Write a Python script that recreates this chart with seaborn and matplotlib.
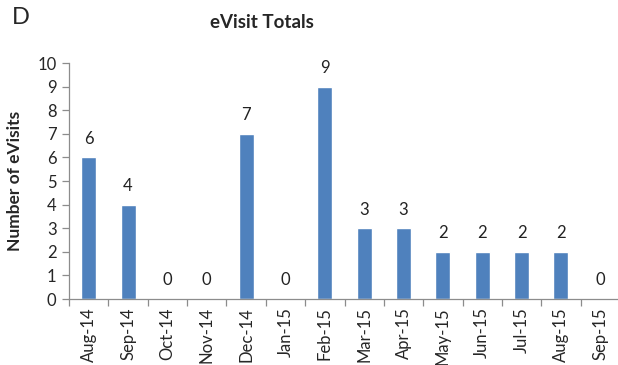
import numpy as np
import pandas as pd
import matplotlib
matplotlib.use("Agg")
import matplotlib.pyplot as plt
import seaborn as sns

months = ["Aug-14", "Sep-14", "Oct-14", "Nov-14", "Dec-14", "Jan-15", "Feb-15",
          "Mar-15", "Apr-15", "May-15", "Jun-15", "Jul-15", "Aug-15", "Sep-15"]
visits = [6, 4, 0, 0, 7, 0, 9, 3, 3, 2, 2, 2, 2, 0]

sns.set_theme(style="white")
plt.rcParams["font.family"] = ["Lato", "DejaVu Sans"]

df = pd.DataFrame({"month": months, "visits": visits})

fig = plt.figure(figsize=(6.18, 3.65), dpi=100)
# axes spans a bit past the right edge, like the original
ax = fig.add_axes([69 / 618, 66 / 365, 551 / 618, 236 / 365])

sns.barplot(data=df, x="month", y="visits", color="#4F81BD", saturation=1,
            width=0.38, ax=ax)

# value labels above bars
for i, v in enumerate(visits):
    ax.text(i, v + 0.45, str(v), ha="center", va="bottom", fontsize=12, color="#222222")

ax.set_xlim(-0.5, len(months) - 0.5)
ax.set_ylim(0, 10)
ax.set_yticks(range(0, 11))
ax.set_xlabel("")
ax.set_ylabel("Number of eVisits", fontsize=12.5, fontweight="bold", labelpad=10)

gray = "#8c8c8c"
for side in ["top", "right"]:
    ax.spines[side].set_visible(False)
for side in ["left", "bottom"]:
    ax.spines[side].set_color(gray)
    ax.spines[side].set_linewidth(0.9)

ax.tick_params(axis="y", direction="out", length=5, color=gray, width=0.9,
               labelsize=12, pad=4, left=True)
ax.tick_params(axis="x", which="major", length=0, labelsize=12, rotation=90, pad=6)
ax.set_xticks(np.arange(len(months)) - 0.5, minor=True)
ax.tick_params(axis="x", which="minor", direction="out", length=5, color=gray,
               width=0.9, bottom=True)

fig.text(262 / 618, 1 - 22 / 365, "eVisit Totals", ha="center", va="center",
         fontsize=13.5, fontweight="bold")
fig.text(12 / 618, 1 - 18 / 365, "D", ha="left", va="center", fontsize=17)

fig.savefig("out.png", dpi=100)
